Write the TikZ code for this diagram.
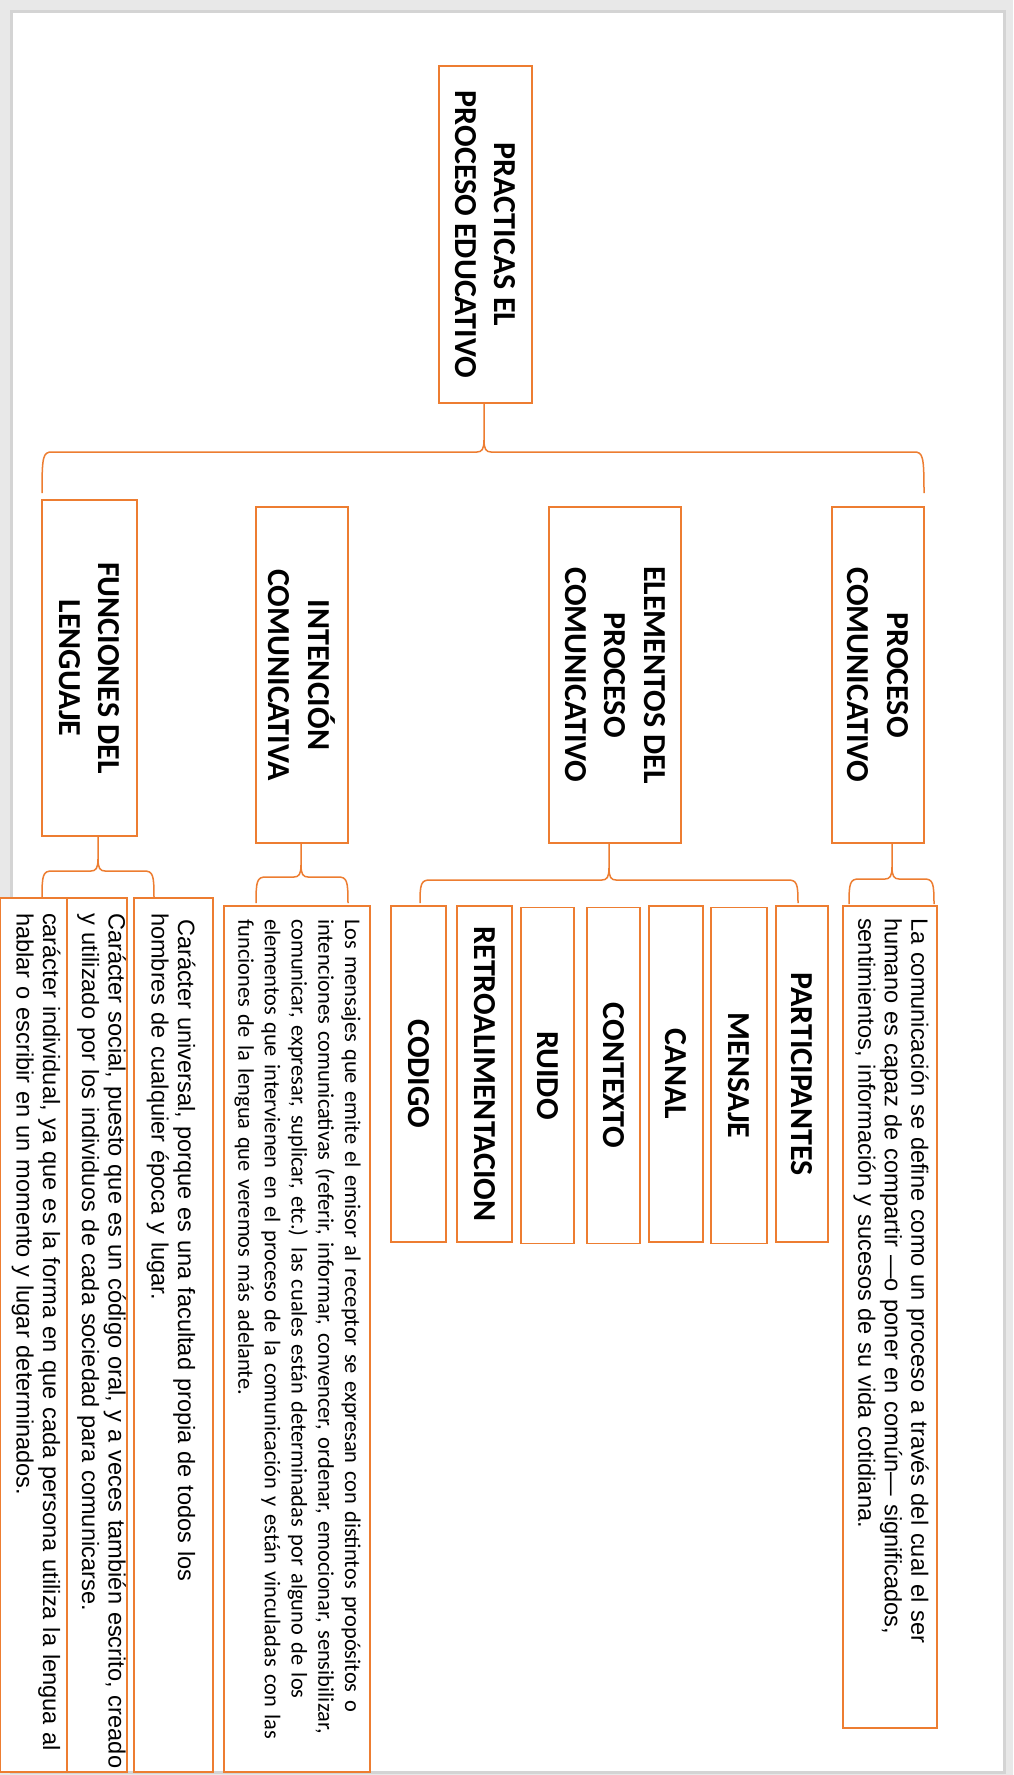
\documentclass[tikz,border=0pt]{standalone}
\usepackage{fontspec}
\setmainfont{Liberation Sans}
\newfontfamily\calfont{Carlito}
\newfontfamily\arifont{Liberation Sans}
\newcommand{\hdfont}{\calfont\bfseries\fontsize{32}{39.5}\selectfont}
\newcommand{\calbody}{\calfont\fontsize{22.4}{26.7}\selectfont}
\newcommand{\aribody}{\arifont\fontsize{23.6}{26.5}\selectfont}
\newcommand{\jl}[2]{\leavevmode\hbox to #1{#2}}
\definecolor{orng}{RGB}{237,125,49}
\definecolor{pgray}{RGB}{232,232,232}
\definecolor{bgray}{RGB}{212,212,212}
\tikzset{
  obox/.style={draw=orng, line width=1.7pt, fill=white, rotate=-90, inner sep=0pt},
  hd/.style={align=center, font=\hdfont},
  btxt/.style={rotate=-90, inner sep=0pt, align=left},
  brc/.style={draw=orng, line width=1.5pt},
}
% brace: #1 start (stem top), #2 xm, #3 yH, #4 xL, #5 xR, #6 yEnd
\newcommand{\brc}[6]{%
  \draw[brc] #1 -- (#2,#3-12) .. controls (#2,#3-3) and (#2-2,#3) .. (#2-7,#3) -- (#4+10,#3) .. controls (#4+1,#3) and (#4,#3+4) .. (#4,#6);
  \draw[brc] (#2,#3-12) .. controls (#2,#3-3) and (#2+2,#3) .. (#2+7,#3) -- (#5-10,#3) .. controls (#5-1,#3) and (#5,#3+4) .. (#5,#6);
}
\begin{document}
\begin{tikzpicture}[x=1pt,y=-1pt]
\useasboundingbox (0,0) rectangle (1013,1775);
\fill[pgray] (0,0) rectangle (1013,1775);
\filldraw[fill=white, draw=bgray, line width=2.5pt] (11.5,11.5) rectangle (1004.5,1772.5);

% level 1
\node[obox, hd, minimum width=337pt, minimum height=93pt] (root) at (485.5,234.5) {PRACTICAS EL\\PROCESO EDUCATIVO};

% level 2
\node[obox, hd, minimum width=336pt, minimum height=95pt] (fun) at (89.5,668) {FUNCIONES DEL\\LENGUAJE};
\node[obox, hd, minimum width=336pt, minimum height=92pt] (int) at (302,675) {INTENCIÓN\\COMUNICATIVA};
\node[obox, hd, minimum width=336pt, minimum height=132pt] (ele) at (615,675) {ELEMENTOS DEL\\PROCESO\\COMUNICATIVO};
\node[obox, hd, minimum width=336pt, minimum height=92pt] (pc) at (878,675) {PROCESO\\COMUNICATIVO};

% level 3: elements
\node[obox, hd, minimum width=336pt, minimum height=55pt] (cod) at (418.5,1074) {CODIGO};
\node[obox, hd, minimum width=336pt, minimum height=55pt] (ret) at (484.5,1074) {RETROALIMENTACION};
\node[obox, hd, minimum width=336pt, minimum height=53pt] (rui) at (547.5,1075.5) {RUIDO};
\node[obox, hd, minimum width=336pt, minimum height=53pt] (ctx) at (613.5,1075.5) {CONTEXTO};
\node[obox, hd, minimum width=336pt, minimum height=54pt] (can) at (676,1074) {CANAL};
\node[obox, hd, minimum width=336pt, minimum height=56pt] (men) at (739,1075.5) {MENSAJE};
\node[obox, hd, minimum width=336pt, minimum height=52pt] (par) at (802,1074) {PARTICIPANTES};

% level 3: text boxes
\node[obox, minimum width=822pt, minimum height=94pt] (comm) at (890,1317) {};
\node[btxt, text width=795pt, font=\aribody] (commt) at (891,1315.5) {\jl{795pt}{La comunicación se define como un proceso a través del cual el ser}\\\jl{795pt}{humano es capaz de compartir —o poner en común— significados,}\\sentimientos, información y sucesos de su vida cotidiana.};

\node[obox, minimum width=866pt, minimum height=146pt] (mens) at (297,1339) {};
\node[btxt, text width=839pt, font=\calbody] (menst) at (297.5,1338.5) {\jl{839pt}{Los mensajes que emite el emisor al receptor se expresan con distintos propósitos o}\\\jl{839pt}{intenciones comunicativas (referir, informar, convencer, ordenar, emocionar, sensibilizar,}\\\jl{839pt}{comunicar, expresar, suplicar, etc.) las cuales están determinadas por alguno de los}\\\jl{839pt}{elementos que intervienen en el proceso de la comunicación y están vinculadas con las}\\funciones de la lengua que veremos más adelante.};

\node[obox, minimum width=874pt, minimum height=79pt] (univ) at (173.5,1335) {};
\node[btxt, text width=845pt, font=\aribody] (univt) at (171,1335.5) {\hspace*{6pt}Carácter universal, porque es una facultad propia de todos los\\hombres de cualquier época y lugar.};

\node[obox, minimum width=874pt, minimum height=60pt] (soc) at (97,1335) {};
\node[btxt, text width=845pt, font=\aribody] (soct) at (101.5,1335.5) {\jl{845pt}{Carácter social, puesto que es un código oral, y a veces también escrito, creado}\\y utilizado por los individuos de cada sociedad para comunicarse.};

\node[obox, minimum width=874pt, minimum height=67pt] (ind) at (33.5,1335) {};
\node[btxt, text width=845pt, font=\aribody] (indt) at (36,1335.5) {\jl{845pt}{carácter individual, ya que es la forma en que cada persona utiliza la lengua al}\\hablar o escribir en un momento y lugar determinados.};

% braces
\brc{([xshift=-1.5pt]root.east)}{484}{452}{42}{924}{493}
\brc{([xshift=8.5pt]fun.east)}{98}{871}{42}{154}{897}
\brc{([xshift=-1pt]int.east)}{301}{877}{256}{348}{903}
\brc{([xshift=-6pt]ele.east)}{609}{880}{420}{798}{903}
\brc{([xshift=14pt]pc.east)}{892}{879}{849}{934}{904}
\end{tikzpicture}
\end{document}
